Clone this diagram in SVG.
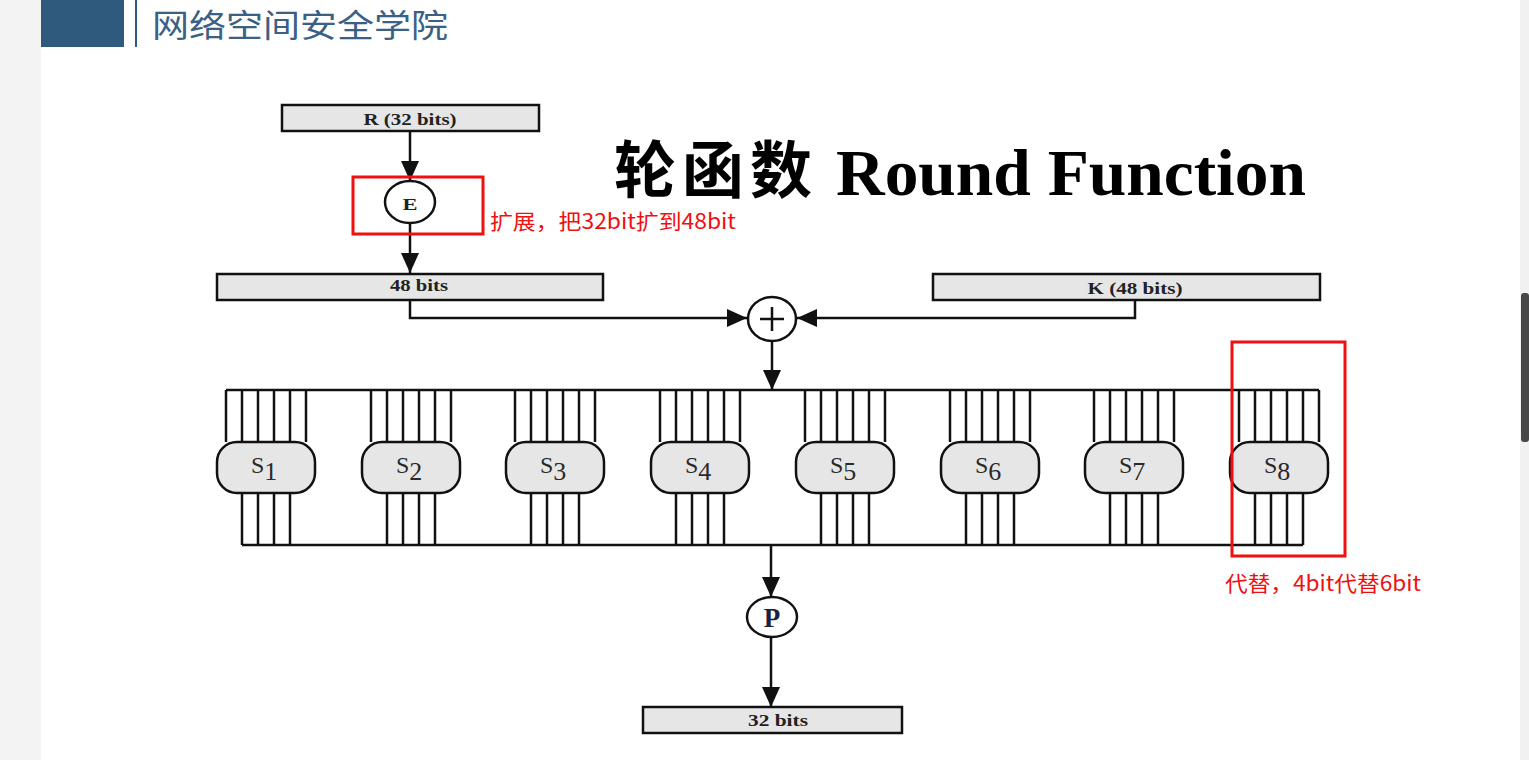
<svg xmlns="http://www.w3.org/2000/svg" width="1529" height="760" viewBox="0 0 1529 760">
<defs>
<style>
.box{fill:#e6e6e6;stroke:#111;stroke-width:2.5}
.ln{fill:none;stroke:#111;stroke-width:2.5}
.bl{font-family:"Liberation Serif",serif;font-weight:bold;font-size:16px;fill:#222;text-anchor:middle}
.sl{font-family:"Liberation Serif",serif;fill:#2a2a2a;font-size:24px}
.red{font-family:"Noto Sans CJK SC","Noto Sans",sans-serif;font-size:21px;fill:#f01010}
.rbox{fill:none;stroke:#f01010;stroke-width:3}
.circ{fill:#fff;stroke:#111;stroke-width:2.5}
</style>
<marker id="ah" markerUnits="userSpaceOnUse" markerWidth="20" markerHeight="20" viewBox="0 0 20 20" refX="20" refY="10" orient="auto">
<path d="M0,1 L20,10 L0,19 Z" fill="#111"/>
</marker>
</defs>
<rect x="0" y="0" width="1529" height="760" fill="#fff"/>
<g id="page">
<rect x="0" y="0" width="41" height="760" fill="#f3f3f3"/>
<rect x="41" y="0" width="83" height="47" fill="#2f5a7e"/>
<rect x="135" y="0" width="2" height="47" fill="#2f5a7e"/>
<text x="152" y="37" font-family="'Noto Sans CJK SC',sans-serif" font-size="32" fill="#3a6184" textLength="296" lengthAdjust="spacingAndGlyphs">网络空间安全学院</text>
<rect x="1520" y="0" width="9" height="760" fill="#f1f1f1"/>
<rect x="1521" y="293" width="8" height="149" rx="3" fill="#474747"/>
</g>
<g id="title">
<text x="614" y="193" font-family="'Noto Sans CJK SC',serif" font-weight="bold" font-size="62" fill="#000" textLength="198" lengthAdjust="spacing">轮函数</text>
<text x="836" y="195" font-family="'Liberation Serif',serif" font-weight="bold" font-size="66" fill="#000" textLength="470" lengthAdjust="spacingAndGlyphs">Round Function</text>
</g>
<g id="connectors">
<line class="ln" x1="410" y1="131" x2="410" y2="181" marker-end="url(#ah)"/>
<line class="ln" x1="410" y1="223" x2="410" y2="273" marker-end="url(#ah)"/>
<polyline class="ln" points="410,300 410,318 747,318" marker-end="url(#ah)"/>
<polyline class="ln" points="1135,300 1135,318 797,318" marker-end="url(#ah)"/>
<line class="ln" x1="772" y1="342" x2="772" y2="390" marker-end="url(#ah)"/>
<line class="ln" x1="226" y1="390" x2="1319" y2="390"/>
<line class="ln" x1="242" y1="545" x2="1303" y2="545"/>
<line class="ln" x1="771" y1="545" x2="771" y2="597" marker-end="url(#ah)"/>
<line class="ln" x1="771" y1="637" x2="771" y2="707" marker-end="url(#ah)"/>
</g>
<g id="node-R"><rect class="box" x="282" y="105" width="257" height="26"/><text class="bl" x="410" y="125" textLength="93" lengthAdjust="spacingAndGlyphs">R (32 bits)</text></g>
<g id="node-E"><ellipse class="circ" cx="410" cy="202" rx="25" ry="21"/><text class="bl" x="410" y="210" font-size="20" textLength="15" lengthAdjust="spacingAndGlyphs">E</text></g>
<g id="node-48"><rect class="box" x="217" y="274" width="386" height="26"/><text class="bl" x="419" y="291" textLength="58" lengthAdjust="spacingAndGlyphs">48 bits</text></g>
<g id="node-K"><rect class="box" x="933" y="274" width="387" height="26"/><text class="bl" x="1135" y="294" textLength="95" lengthAdjust="spacingAndGlyphs">K (48 bits)</text></g>
<g id="node-xor"><ellipse class="circ" cx="772" cy="319" rx="24" ry="22"/><path class="ln" d="M760,319 H784 M772,307 V331" stroke-width="2"/></g>
<g id="sboxes">
<g id="S1" transform="translate(266,0)"><path class="ln" d="M-40,390V442M-24,390V442M-8,390V442M8,390V442M24,390V442M40,390V442M-24,493V545M-8,493V545M8,493V545M24,493V545"/><rect class="box" x="-49" y="442" width="98" height="51" rx="20"/><text class="sl" x="-15" y="473">S<tspan font-size="26" dy="7">1</tspan></text></g>
<g id="S2" transform="translate(411,0)"><path class="ln" d="M-40,390V442M-24,390V442M-8,390V442M8,390V442M24,390V442M40,390V442M-24,493V545M-8,493V545M8,493V545M24,493V545"/><rect class="box" x="-49" y="442" width="98" height="51" rx="20"/><text class="sl" x="-15" y="473">S<tspan font-size="26" dy="7">2</tspan></text></g>
<g id="S3" transform="translate(555,0)"><path class="ln" d="M-40,390V442M-24,390V442M-8,390V442M8,390V442M24,390V442M40,390V442M-24,493V545M-8,493V545M8,493V545M24,493V545"/><rect class="box" x="-49" y="442" width="98" height="51" rx="20"/><text class="sl" x="-15" y="473">S<tspan font-size="26" dy="7">3</tspan></text></g>
<g id="S4" transform="translate(700,0)"><path class="ln" d="M-40,390V442M-24,390V442M-8,390V442M8,390V442M24,390V442M40,390V442M-24,493V545M-8,493V545M8,493V545M24,493V545"/><rect class="box" x="-49" y="442" width="98" height="51" rx="20"/><text class="sl" x="-15" y="473">S<tspan font-size="26" dy="7">4</tspan></text></g>
<g id="S5" transform="translate(845,0)"><path class="ln" d="M-40,390V442M-24,390V442M-8,390V442M8,390V442M24,390V442M40,390V442M-24,493V545M-8,493V545M8,493V545M24,493V545"/><rect class="box" x="-49" y="442" width="98" height="51" rx="20"/><text class="sl" x="-15" y="473">S<tspan font-size="26" dy="7">5</tspan></text></g>
<g id="S6" transform="translate(990,0)"><path class="ln" d="M-40,390V442M-24,390V442M-8,390V442M8,390V442M24,390V442M40,390V442M-24,493V545M-8,493V545M8,493V545M24,493V545"/><rect class="box" x="-49" y="442" width="98" height="51" rx="20"/><text class="sl" x="-15" y="473">S<tspan font-size="26" dy="7">6</tspan></text></g>
<g id="S7" transform="translate(1134,0)"><path class="ln" d="M-40,390V442M-24,390V442M-8,390V442M8,390V442M24,390V442M40,390V442M-24,493V545M-8,493V545M8,493V545M24,493V545"/><rect class="box" x="-49" y="442" width="98" height="51" rx="20"/><text class="sl" x="-15" y="473">S<tspan font-size="26" dy="7">7</tspan></text></g>
<g id="S8" transform="translate(1279,0)"><path class="ln" d="M-40,390V442M-24,390V442M-8,390V442M8,390V442M24,390V442M40,390V442M-24,493V545M-8,493V545M8,493V545M24,493V545"/><rect class="box" x="-49" y="442" width="98" height="51" rx="20"/><text class="sl" x="-15" y="473">S<tspan font-size="26" dy="7">8</tspan></text></g>
</g>
<g id="node-P"><ellipse class="circ" cx="772" cy="617" rx="25" ry="20"/><text x="772" y="627" text-anchor="middle" font-family="'Liberation Serif',serif" font-weight="bold" font-size="27" fill="#1a2240">P</text></g>
<g id="node-32"><rect class="box" x="643" y="707" width="259" height="26"/><text class="bl" x="778" y="726" textLength="60" lengthAdjust="spacingAndGlyphs">32 bits</text></g>
<g id="annotations">
<rect class="rbox" x="353" y="177" width="130" height="57"/>
<text class="red" x="490" y="229" textLength="246" lengthAdjust="spacingAndGlyphs">扩展，把32bit扩到48bit</text>
<rect class="rbox" x="1232" y="342" width="113" height="214"/>
<text class="red" x="1225" y="591" textLength="196" lengthAdjust="spacingAndGlyphs">代替，4bit代替6bit</text>
</g>
</svg>
